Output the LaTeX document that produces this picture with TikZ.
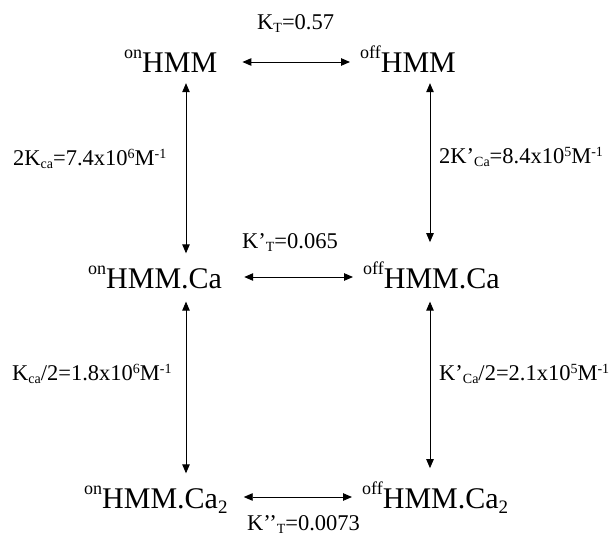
\documentclass[tikz,border=0pt]{standalone}
\usepackage{fontspec}
\setmainfont{Liberation Serif}
\usetikzlibrary{arrows.meta}
% raised / lowered small text for the state names and the constants
\newcommand\statehi[1]{\raisebox{14pt}{\fontsize{18}{18}\selectfont #1}}
\newcommand\statelo[1]{\raisebox{-5pt}{\fontsize{19}{19}\selectfont #1}}
\newcommand\lsub[1]{\raisebox{-3pt}{\fontsize{14}{14}\selectfont #1}}
\newcommand\lsup[1]{\raisebox{7pt}{\fontsize{14}{14}\selectfont #1}}
\tikzset{
  state/.style={anchor=base west, inner sep=0pt, font=\fontsize{30}{30}\selectfont},
  const/.style={anchor=base west, inner sep=0pt, font=\fontsize{22.5}{24}\selectfont},
  link/.style={arrows={Triangle[length=9pt,width=7.5pt]-Triangle[length=9pt,width=7.5pt]}, line width=0.9pt}
}
\begin{document}
\begin{tikzpicture}[x=1pt, y=-1pt]
\useasboundingbox (0,0) rectangle (613,535);
% columns of the vertical equilibria
\coordinate (colL) at (186,0);
\coordinate (colR) at (430,0);
% states
\node[state] (onA)  at (124,73)  {\statehi{on}HMM};
\node[state] (offA) at (360,73)  {\statehi{off}HMM};
\node[state] (onB)  at (88,288)  {\statehi{on}HMM.Ca};
\node[state] (offB) at (363,288) {\statehi{off}HMM.Ca};
\node[state] (onC)  at (84,508)  {\statehi{on}HMM.Ca\statelo{2}};
\node[state] (offC) at (362,508) {\statehi{off}HMM.Ca\statelo{2}};
% equilibrium constants
\node[const] (kA) at (257,30)  {K\lsub{T}=0.57};
\node[const] (kB) at (242,248) {K’\lsub{T}=0.065};
\node[const] (kC) at (247,530) {K’’\lsub{T}=0.0073};
\node[const] (cL1) at (13,165)  {2K\lsub{ca}=7.4x10\lsup{6}M\lsup{-1}};
\node[const] (cR1) at (439,163) {2K’\lsub{Ca}=8.4x10\lsup{5}M\lsup{-1}};
\node[const] (cL2) at (12,380)  {K\lsub{ca}/2=1.8x10\lsup{6}M\lsup{-1}};
\node[const] (cR2) at (439,380) {K’\lsub{Ca}/2=2.1x10\lsup{5}M\lsup{-1}};
% horizontal equilibria, level with the middle of the capitals
\draw[link] ([xshift=25pt,yshift=11pt]onA.base east) -- ([xshift=-10pt,yshift=11pt]offA.base west);
\draw[link] ([xshift=22pt,yshift=11pt]onB.base east) -- ([xshift=-10pt,yshift=11pt]offB.base west);
\draw[link] ([xshift=16pt,yshift=11pt]onC.base east) -- ([xshift=-10pt,yshift=11pt]offC.base west);
% vertical equilibria
\draw[link] ([yshift=-10pt]onA.south -| colL) -- ([yshift=12pt]onB.north -| colL);
\draw[link] ([yshift=-10pt]offA.south -| colR) -- ([yshift=19pt]offB.north -| colR);
\draw[link] ([yshift=-13pt]onB.south -| colL) -- ([yshift=12pt]onC.north -| colL);
\draw[link] ([yshift=-13pt]offB.south -| colR) -- ([yshift=13pt]offC.north -| colR);
\end{tikzpicture}
\end{document}
